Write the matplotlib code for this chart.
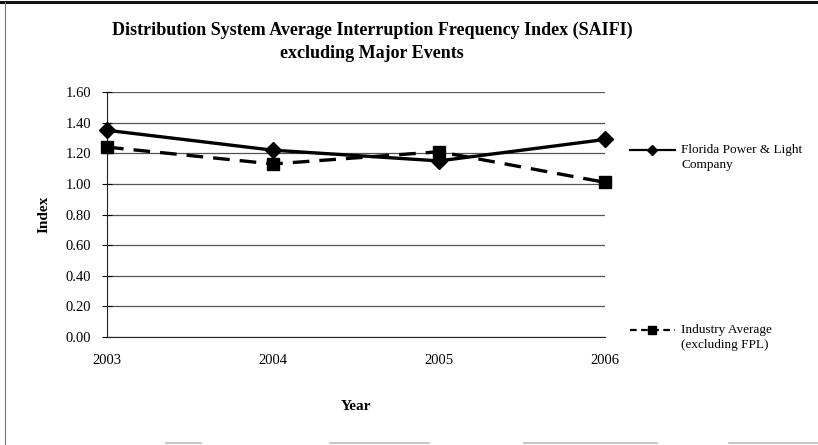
import matplotlib
matplotlib.use("Agg")
import matplotlib.pyplot as plt
from matplotlib.lines import Line2D

years = ["2003", "2004", "2005", "2006"]
fpl = [1.35, 1.22, 1.15, 1.29]
industry = [1.24, 1.13, 1.21, 1.01]
yticks = [0.00, 0.20, 0.40, 0.60, 0.80, 1.00, 1.20, 1.40, 1.60]
series_names = ["Florida Power & Light", "Industry Average"]
series_notes = ["Company", "(excluding FPL)"]

W, H = 818, 445
plt.rcParams["font.family"] = ["Liberation Serif", "DejaVu Serif"]

fig = plt.figure(figsize=(W / 100, H / 100), dpi=100)
fig.patch.set_facecolor("white")


def fx(px):
    return px / W


def fy(py):
    return 1 - py / H


# plot area in pixel terms
left, right, top, bottom = 107, 605, 92, 337
ax = fig.add_axes([fx(left), fy(bottom), fx(right - left), (bottom - top) / H])
x = list(range(len(years)))

ax.set_xlim(0, len(years) - 1)
ax.set_ylim(0, 1.6)
ax.set_yticks(yticks)
ax.set_yticklabels([f"{v:.2f}" for v in yticks], fontsize=10.5)
ax.set_xticks(x)
ax.set_xticklabels(years, fontsize=10.5)
ax.yaxis.grid(True, color="#555555", lw=0.9)
ax.set_axisbelow(True)
for s in ["top", "right"]:
    ax.spines[s].set_visible(False)
ax.spines["left"].set_color("#222222")
ax.spines["bottom"].set_color("#222222")
ax.tick_params(axis="y", direction="inout", length=7, width=0.8, pad=8)
ax.tick_params(axis="x", length=0, pad=12)

fpl_style = dict(color="black", lw=2.4, marker="D", ms=8)
ind_style = dict(color="black", lw=2.4, ls=(0, (5, 3)), marker="s", ms=9)
ax.plot(x, fpl, clip_on=False, zorder=4, **fpl_style)
ax.plot(x, industry, clip_on=False, zorder=3, **ind_style)

ax.set_ylabel("Index", fontsize=11, fontweight="bold", labelpad=11)
ax.set_xlabel("Year", fontsize=11, fontweight="bold", labelpad=24)

fig.text(fx(372), fy(30), "Distribution System Average Interruption Frequency Index (SAIFI)",
         ha="center", va="center", fontsize=13, fontweight="bold")
fig.text(fx(372), fy(53), "excluding Major Events",
         ha="center", va="center", fontsize=13, fontweight="bold")

# legend keys, each aligned with the first line of its label
keys = [
    (150, dict(color="black", lw=1.6, marker="D", ms=5)),
    (330, dict(color="black", lw=1.6, ls=(0, (3, 2)), marker="s", ms=6)),
]
for (ky, kstyle), name, note in zip(keys, series_names, series_notes):
    fig.add_artist(Line2D([fx(630), fx(652), fx(675)], [fy(ky)] * 3,
                          markevery=[1], **kstyle))
    fig.text(fx(681), fy(ky), name, ha="left", va="center", fontsize=9.5)
    fig.text(fx(681), fy(ky + 15), note, ha="left", va="center", fontsize=9.5)

# chart frame
fig.add_artist(Line2D([0, 1], [fy(2), fy(2)], color="#111111", lw=2.2))
fig.add_artist(Line2D([fx(5), fx(5)], [fy(2), 0], color="#777777", lw=0.8))
for a, b in [(166, 201), (330, 429), (524, 657), (729, 818)]:
    fig.add_artist(Line2D([fx(a), fx(b)], [fy(443), fy(443)], color="#bbbbbb", lw=1.2))

fig.savefig("out.png", dpi=100)
